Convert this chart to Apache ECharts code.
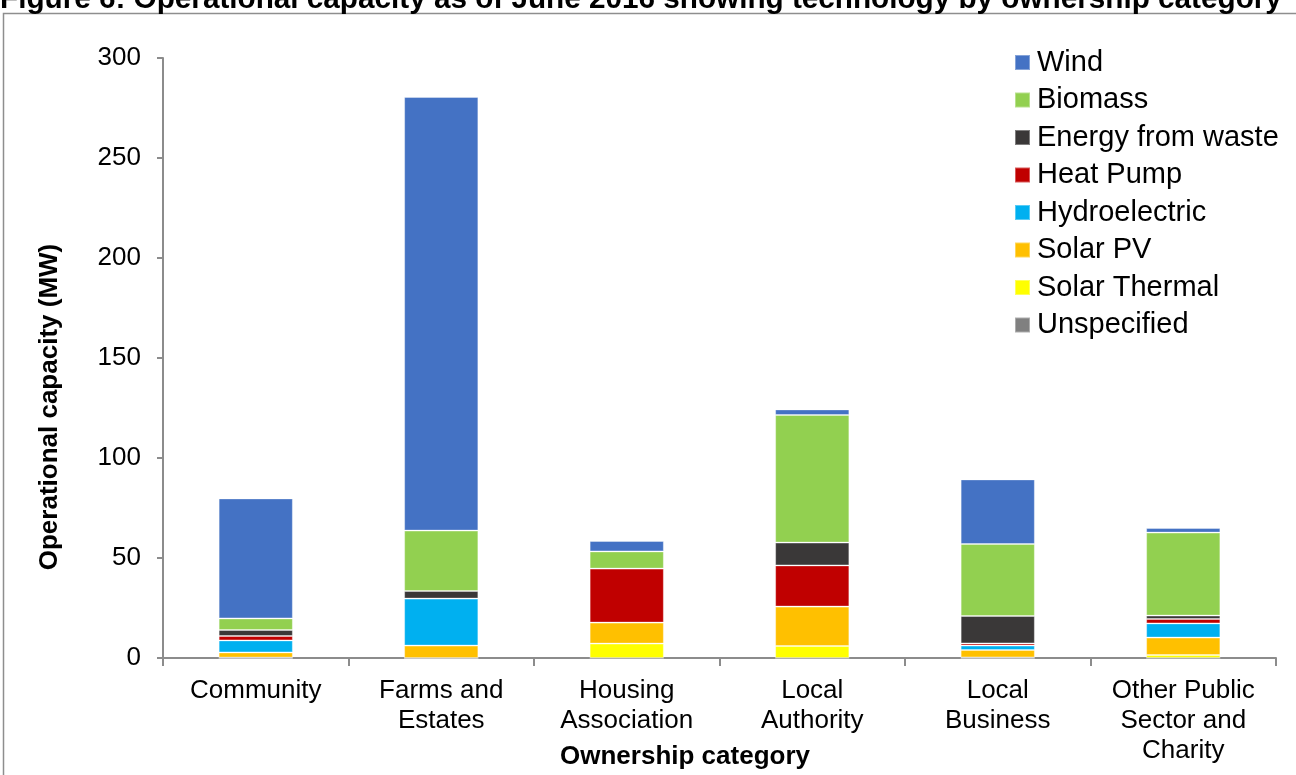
<!DOCTYPE html>
<html>
<head>
<meta charset="utf-8">
<script src="https://cdn.jsdelivr.net/npm/echarts@6/dist/echarts.min.js"></script>
<style>
  html, body { margin: 0; padding: 0; background: #ffffff; }
  #chart { width: 1296px; height: 775px; }
</style>
</head>
<body>
<div id="chart"></div>
<script>
// Ownership categories along the x axis
const categories = [
  'Community',
  'Farms and\nEstates',
  'Housing\nAssociation',
  'Local\nAuthority',
  'Local\nBusiness',
  'Other Public\nSector and\nCharity'
];

// Operational capacity (MW) per technology, one value per category
const solarThermal = [0.2, 0, 7.2, 6, 0.3, 1.5];
const solarPV      = [2.6, 6.2, 10.5, 19.7, 3.7, 8.7];
const hydro        = [6, 23.5, 0, 0, 2.2, 7.1];
const heatPump     = [2.2, 0, 27, 20.6, 1.1, 2.2];
const energyWaste  = [3, 3.8, 0, 11.4, 13.7, 1.7];
const biomass      = [5.8, 30.2, 8.6, 63.8, 36, 41.5];
const wind         = [60, 216.8, 5.2, 2.8, 32.3, 2.3];
const unspecified  = [0, 0, 0, 0, 0, 0];

// Y axis ticks
const yTicks = [0, 50, 100, 150, 200, 250, 300];

const FONT = "'Liberation Sans', Arial, sans-serif";

// Stacking order, bottom to top
const stack = [
  { name: 'Unspecified',       data: unspecified,  color: '#808080' },
  { name: 'Solar Thermal',     data: solarThermal, color: '#FFFF00' },
  { name: 'Solar PV',          data: solarPV,      color: '#FFC000' },
  { name: 'Hydroelectric',     data: hydro,        color: '#00B0F0' },
  { name: 'Heat Pump',         data: heatPump,     color: '#C00000' },
  { name: 'Energy from waste', data: energyWaste,  color: '#3A3838' },
  { name: 'Biomass',           data: biomass,      color: '#92D050' },
  { name: 'Wind',              data: wind,         color: '#4472C4' }
];

const chart = echarts.init(document.getElementById('chart'), null, { renderer: 'canvas' });

chart.setOption({
  animation: false,
  backgroundColor: '#ffffff',
  textStyle: { fontFamily: FONT },
  grid: { left: 163, right: 20, top: 58, bottom: 117, containLabel: false },
  legend: {
    orient: 'vertical',
    left: 1014,
    top: 48,
    padding: 0,
    itemWidth: 15,
    itemHeight: 15,
    itemGap: 8.5,
    icon: 'rect',
    data: stack.map(s => s.name).reverse(),
    textStyle: {
      fontFamily: FONT,
      fontSize: 29,
      lineHeight: 28,
      color: '#000000',
      padding: [0, 0, 0, 2]
    }
  },
  xAxis: {
    type: 'category',
    data: categories,
    axisLine: { lineStyle: { color: '#8c8c8c', width: 2 } },
    axisTick: { show: true, length: 8, alignWithLabel: false, lineStyle: { color: '#8c8c8c', width: 2 } },
    axisLabel: {
      interval: 0,
      margin: 18,
      fontSize: 26,
      lineHeight: 30,
      color: '#000000',
      fontFamily: FONT
    }
  },
  yAxis: {
    type: 'value',
    min: yTicks[0],
    max: yTicks[yTicks.length - 1],
    interval: 50,
    splitLine: { show: false },
    axisLine: { show: true, lineStyle: { color: '#8c8c8c', width: 2 } },
    axisTick: { show: true, length: 6, lineStyle: { color: '#8c8c8c', width: 2 } },
    axisLabel: {
      margin: 22,
      fontSize: 26,
      color: '#000000',
      fontFamily: FONT
    }
  },
  graphic: [
    {
      type: 'rect',
      shape: { x: 3.5, y: 13.5, width: 1320, height: 800 },
      style: { fill: 'none', stroke: '#8e8e8e', lineWidth: 1.5 },
      silent: true
    },
    {
      type: 'text',
      x: 0,
      y: 15,
      style: {
        text: 'Figure 6: Operational capacity as of June 2016 showing technology by ownership category',
        font: "bold 29.7px " + FONT,
        fill: '#000000',
        align: 'left',
        verticalAlign: 'bottom'
      }
    },
    {
      type: 'text',
      x: 685,
      y: 757,
      style: {
        text: 'Ownership category',
        font: "bold 26px " + FONT,
        fill: '#000000',
        align: 'center',
        verticalAlign: 'middle'
      }
    },
    {
      type: 'text',
      x: 50,
      y: 407,
      rotation: Math.PI / 2,
      style: {
        text: 'Operational capacity (MW)',
        font: "bold 26px " + FONT,
        fill: '#000000',
        align: 'center',
        verticalAlign: 'middle'
      }
    }
  ],
  series: stack.map(s => ({
    name: s.name,
    type: 'bar',
    stack: 'total',
    data: s.data,
    barCategoryGap: '60%',
    itemStyle: {
      color: s.color,
      borderColor: 'rgba(255,255,255,0.35)',
      borderWidth: 1
    }
  }))
});
</script>
</body>
</html>
